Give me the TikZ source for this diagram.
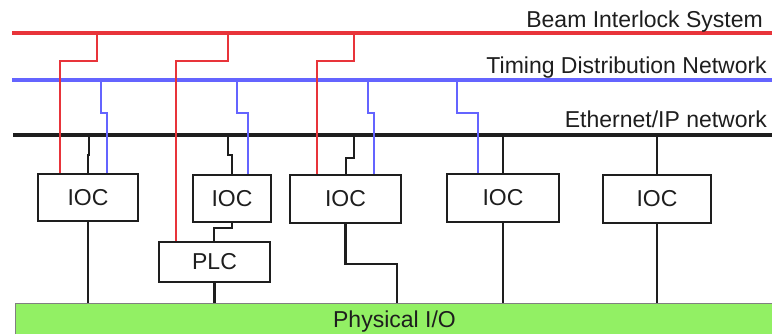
\documentclass[tikz,border=0pt]{standalone}
\usepackage{fontspec}
\setmainfont{Liberation Sans}
\definecolor{bisred}{RGB}{232,52,58}
\definecolor{tdblue}{RGB}{100,100,255}
\definecolor{iogreen}{RGB}{146,240,100}
\definecolor{ink}{RGB}{30,30,30}
\begin{document}
\begin{tikzpicture}[x=1pt,y=-1pt,
  bus/.style={line width=3.6pt},
  drop/.style={line width=2.3pt},
  redl/.style={drop,bisred},
  bluel/.style={drop,tdblue},
  blackl/.style={drop,ink},
  box/.style={draw=ink,line width=2.4pt,fill=white,inner sep=0pt,
    font=\fontsize{23}{26}\selectfont,text=ink},
  lab/.style={anchor=base east,inner sep=0pt,font=\fontsize{23}{26}\selectfont,text=ink}]
\useasboundingbox (0,0) rectangle (772,334);
% physical I/O
\node[draw=black!50,line width=1pt,fill=iogreen,minimum width=759pt,minimum height=37pt,
  inner sep=0pt,font=\fontsize{23}{26}\selectfont,text=ink] (phys) at (394.5,321.5) {Physical I/O};
% buses
\coordinate (bisL) at (12,33);  \coordinate (bisR) at (772,33);
\coordinate (tdnL) at (12,80);  \coordinate (tdnR) at (772,80);
\coordinate (ethL) at (13,135); \coordinate (ethR) at (772,135);
\draw[bus,bisred] (bisL) -- (bisR);
\draw[bus,tdblue] (tdnL) -- (tdnR);
\draw[bus,ink] (ethL) -- (ethR);
\node[lab] (lbis) at (763,28) {Beam Interlock System};
\node[lab] (ltdn) at (767,74) {Timing Distribution Network};
\node[lab] (leth) at (767,128) {Ethernet/IP network};
% boxes
\node[box,minimum width=100pt,minimum height=47pt] (ioc1) at (88,197.5) {IOC};
\node[box,minimum width=78pt,minimum height=47pt] (ioc2) at (232,198.5) {IOC};
\node[box,minimum width=111pt,minimum height=48pt] (ioc3) at (345.5,199) {IOC};
\node[box,minimum width=111pt,minimum height=40pt] (plc) at (214.5,262) {PLC};
\node[box,minimum width=112pt,minimum height=48pt] (ioc4) at (503,198) {IOC};
\node[box,minimum width=108pt,minimum height=48pt] (ioc5) at (657,199) {IOC};
% bus taps and jogs
\coordinate (r1) at (97,33);  \coordinate (rj1) at (60,61);
\coordinate (r2) at (228,33); \coordinate (rj2) at (176,61);
\coordinate (r3) at (354,33); \coordinate (rj3) at (317,61);
\coordinate (b1) at (101,80); \coordinate (bj1) at (107,113);
\coordinate (b2) at (237,80); \coordinate (bj2) at (248,113);
\coordinate (b3) at (368,80); \coordinate (bj3) at (374,113);
\coordinate (b4) at (457,80); \coordinate (bj4) at (478,113);
\coordinate (e1) at (89,135);  \coordinate (ej1) at (88,155);
\coordinate (e2) at (228,135); \coordinate (ej2) at (232,155);
\coordinate (e3) at (354,135); \coordinate (ej3) at (346,158);
\coordinate (e4) at (503,135);
\coordinate (e5) at (657,135);
\coordinate (pj) at (214,228);
\coordinate (ioj) at (397,264);
% red drops
\draw[redl] (r1) |- (rj1) -- (rj1 |- ioc1.north);
\draw[redl] (r2) |- (rj2) -- (rj2 |- plc.north);
\draw[redl] (r3) |- (rj3) -- (rj3 |- ioc3.north);
% blue drops
\draw[bluel] (b1) |- (bj1) -- (bj1 |- ioc1.north);
\draw[bluel] (b2) |- (bj2) -- (bj2 |- ioc2.north);
\draw[bluel] (b3) |- (bj3) -- (bj3 |- ioc3.north);
\draw[bluel] (b4) |- (bj4) -- (bj4 |- ioc4.north);
% ethernet drops
\draw[blackl] (e1) |- (ej1) -- (ej1 |- ioc1.north);
\draw[blackl] (e2) |- (ej2) -- (ej2 |- ioc2.north);
\draw[blackl] (e3) |- (ej3) -- (ej3 |- ioc3.north);
\draw[blackl] (e4) -- (e4 |- ioc4.north);
\draw[blackl] (e5) -- (e5 |- ioc5.north);
% to physical I/O
\draw[blackl] (ioc1.south) -- (ioc1.south |- phys.north);
\draw[blackl] (ioc2.south) |- (pj) -- (pj |- plc.north);
\draw[blackl] (plc.south) -- (plc.south |- phys.north);
\draw[blackl] (ioc3.south) |- (ioj) -- (ioj |- phys.north);
\draw[blackl] (ioc4.south) -- (ioc4.south |- phys.north);
\draw[blackl] (ioc5.south) -- (ioc5.south |- phys.north);
\end{tikzpicture}
\end{document}
